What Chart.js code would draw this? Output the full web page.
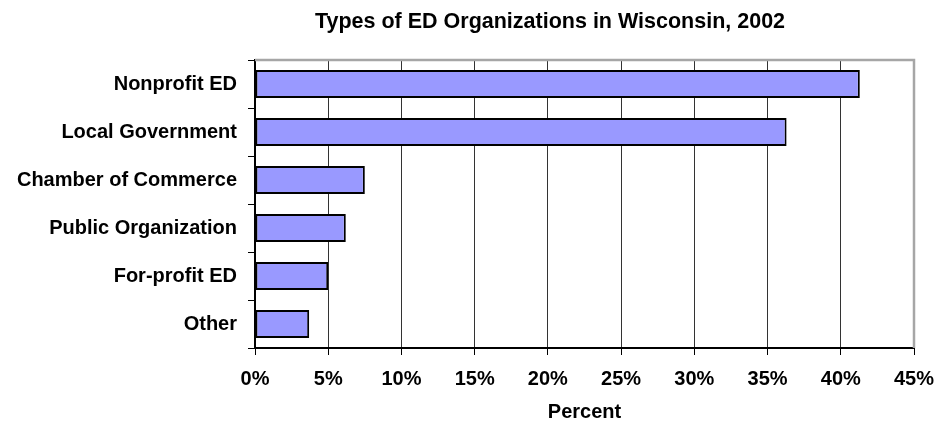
<!DOCTYPE html>
<html>
<head>
<meta charset="utf-8">
<script src="https://cdn.jsdelivr.net/npm/chart.js@4/dist/chart.umd.min.js"></script>
<style>
  body { margin: 0; background: #fff; }
</style>
</head>
<body>
<canvas id="edTypes" width="938" height="427"></canvas>
<script>
const chartTitle = "Types of ED Organizations in Wisconsin, 2002"
const orgTypes = ["Nonprofit ED", "Local Government", "Chamber of Commerce", "Public Organization", "For-profit ED", "Other"]
const percents = [41.3, 36.3, 7.5, 6.2, 5.0, 3.7]
const axisMax = 45
const axisStep = 5

// title + gray top/right frame, Excel style
const framePlugin = {
    id: "frame",
    afterDraw(chart) {
        let ctx = chart.ctx
        let a = chart.chartArea
        ctx.save()
        ctx.strokeStyle = "#a6a6a6"
        ctx.lineWidth = 2.5
        ctx.beginPath()
        ctx.moveTo(a.left, a.top)
        ctx.lineTo(a.right, a.top)
        ctx.lineTo(a.right, a.bottom)
        ctx.stroke()

        ctx.fillStyle = "#000"
        ctx.font = "bold 21.5px 'Liberation Sans', Arial, sans-serif"
        ctx.textAlign = "center"
        ctx.textBaseline = "alphabetic"
        ctx.fillText(chartTitle, 550, 28)
        ctx.restore()
    }
}

let ctxEl = document.getElementById("edTypes")
let myChart = new Chart(ctxEl, {
    type: "bar",
    data: {
        labels: orgTypes,
        datasets: [{
            data: percents,
            backgroundColor: "#9999ff",
            borderColor: "#000",
            borderWidth: 2,
            borderSkipped: false,
            categoryPercentage: 1,
            barPercentage: 0.58
        }]
    },
    options: {
        indexAxis: "y",
        responsive: false,
        animation: false,
        layout: {
            padding: {top: 60, right: 24, left: 0, bottom: 0}
        },
        plugins: {
            legend: {display: false},
            title: {display: false},
            tooltip: {enabled: false}
        },
        scales: {
            x: {
                min: 0,
                max: axisMax,
                afterFit(scale) {
                    scale.height = 79
                    scale.paddingRight = 24
                },
                ticks: {
                    stepSize: axisStep,
                    padding: 12,
                    color: "#000",
                    font: {family: "'Liberation Sans', Arial, sans-serif", size: 20, weight: "bold"},
                    callback: function(v) { return v + "%" }
                },
                grid: {
                    color: function(c) { return c.index === axisMax / axisStep ? "#a6a6a6" : "#333" },
                    tickColor: "#000",
                    tickLength: 7,
                    lineWidth: 1
                },
                border: {color: "#000", width: 2},
                title: {
                    display: true,
                    text: "Percent",
                    color: "#000",
                    font: {family: "'Liberation Sans', Arial, sans-serif", size: 20, weight: "bold"},
                    padding: {top: 0, bottom: 3}
                }
            },
            y: {
                afterFit(scale) { scale.width = 255 },
                ticks: {
                    padding: 11,
                    color: "#000",
                    font: {family: "'Liberation Sans', Arial, sans-serif", size: 20, weight: "bold"}
                },
                grid: {
                    drawOnChartArea: false,
                    color: "#000",
                    tickLength: 7
                },
                border: {color: "#000", width: 2}
            }
        }
    },
    plugins: [framePlugin]
})
</script>
</body>
</html>
